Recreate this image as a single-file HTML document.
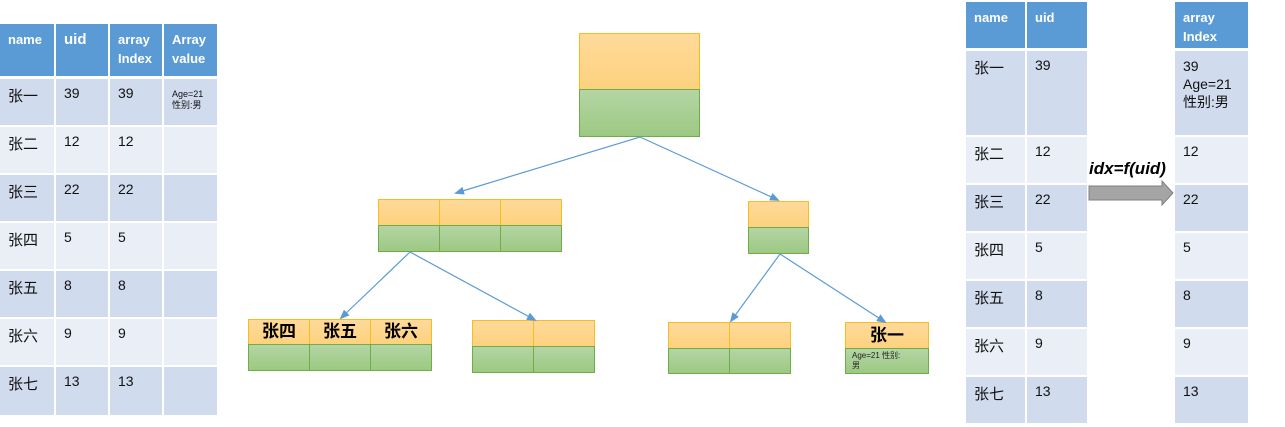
<!DOCTYPE html>
<html><head><meta charset="utf-8">
<style>
body{margin:0;width:1285px;height:427px;background:#fff;position:relative;overflow:hidden;font-family:"Liberation Sans","Noto Sans CJK SC",sans-serif;}
.c{position:absolute;box-sizing:border-box;padding:6px 8px;font-size:14px;color:#111;}
.h{background:#5b9bd5;color:#fff;font-weight:bold;font-size:13px;line-height:19px;}
.d{background:#d0dbee;}
.l{background:#e9eef7;}
.nm{font-size:15px;font-weight:normal;}
.o{position:absolute;box-sizing:border-box;background:linear-gradient(#fed99a,#fdd27e);border:1px solid #f5bd20;}
.g{position:absolute;box-sizing:border-box;background:linear-gradient(#b5d5a5,#9cc982);border:1px solid #70ad47;}
.t{font-weight:bold;font-size:17px;text-align:center;color:#000;}
</style></head>
<body>
<div id="root"></div>
<svg width="1285" height="427" style="position:absolute;left:0;top:0">
<defs><marker id="ah" markerWidth="10" markerHeight="8" refX="8" refY="4" orient="auto" markerUnits="userSpaceOnUse"><path d="M0,0 L10,4 L0,8 z" fill="#5b9bd5"/></marker></defs>
<g stroke="#5b9bd5" stroke-width="1.2" fill="none" marker-end="url(#ah)">
<line x1="640" y1="137" x2="456" y2="193"/>
<line x1="640" y1="137" x2="778" y2="200"/>
<line x1="410" y1="252" x2="341" y2="318"/>
<line x1="410" y1="252" x2="535" y2="320"/>
<line x1="780" y1="254" x2="731" y2="321"/>
<line x1="780" y1="254" x2="885" y2="322"/>
</g>
<g>
<polygon points="1089,186 1162,186 1162,181 1173,193 1162,205 1162,200 1089,200" fill="#a5a5a5" stroke="#7f7f7f" stroke-width="1"/>
</g>
</svg>
<div class="c" style="left:1089px;top:159px;padding:0;font-size:17px;font-weight:bold;font-style:italic;color:#000">idx=f(uid)</div>
<script>
const names=["张一","张二","张三","张四","张五","张六","张七"];
const uids=["39","12","22","5","8","9","13"];
const root=document.getElementById('root');
function cell(x,y,w,h,cls,html,name){
  const d=document.createElement('div');
  d.className='c '+cls;
  d.style.left=x+'px';d.style.top=y+'px';d.style.width=w+'px';d.style.height=h+'px';
  d.innerHTML=html;
  
  
  root.appendChild(d);return d;
}
function box(cls,x,y,w,h,html,name){
  const d=document.createElement('div');
  d.className=cls;
  d.style.left=x+'px';d.style.top=y+'px';d.style.width=w+'px';d.style.height=h+'px';
  if(html)d.innerHTML=html;
  
  
  root.appendChild(d);return d;
}
const lx=[0,56,110,164],lw=[54,52,52,53];
const lh=['name','<span style="font-size:15px">uid</span>','array<br>Index','Array<br>value'];
lh.forEach((t,i)=>cell(lx[i],24,lw[i],52,'h',t,'left-header-'+i));
const lys=[79,127,175,223,271,319,367];
names.forEach((n,r)=>{
  const cls=r%2?'l':'d';const h=r==6?48:46;
  cell(lx[0],lys[r],lw[0],h,cls+' nm',n,'left-name-'+r);
  cell(lx[1],lys[r],lw[1],h,cls,uids[r],'left-uid-'+r);
  cell(lx[2],lys[r],lw[2],h,cls,uids[r],'left-index-'+r);
  cell(lx[3],lys[r],lw[3],h,cls,r==0?'<div style="font-size:9px;line-height:11px;margin-top:4px">Age=21<br>性别:男</div>':'','left-value-'+r);
});
cell(966,2,59,46,'h','name','right-header-name');
cell(1027,2,60,46,'h','uid','right-header-uid');
cell(1175,2,73,46,'h','array<br>Index','right-header-index');
const rys=[51,137,185,233,281,329,377],rhs=[84,46,46,46,46,46,46];
names.forEach((n,r)=>{
  const cls=r%2?'l':'d';
  cell(966,rys[r],59,rhs[r],cls+' nm',n,'right-name-'+r);
  cell(1027,rys[r],60,rhs[r],cls,uids[r],'right-uid-'+r);
  cell(1175,rys[r],73,rhs[r],cls,r==0?'39<br>Age=21<br>性别:男':uids[r],'right-index-'+r).style.lineHeight=r==0?'18px':'';
});
box('o',579,33,121,57,'','root-key');
box('g',579,89,121,48,'','root-value');
[378,439,500].forEach((x,i)=>{box('o',x,199,62,27,'','l2-left-key-'+i);box('g',x,225,62,27,'','l2-left-value-'+i);});
box('o',748,201,61,27,'','l2-right-key');box('g',748,227,61,27,'','l2-right-value');
['张四','张五','张六'].forEach((t,i)=>{const x=248+i*61;box('o t',x,319,62,26,'<div style="line-height:24px">'+t+'</div>','leaf1-key-'+i);box('g',x,344,62,27,'','leaf1-value-'+i);});
[472,533].forEach((x,i)=>{box('o',x,320,62,27,'','leaf2-key-'+i);box('g',x,346,62,27,'','leaf2-value-'+i);});
[668,729].forEach((x,i)=>{box('o',x,322,62,27,'','leaf3-key-'+i);box('g',x,348,62,26,'','leaf3-value-'+i);});
box('o t',845,322,84,27,'<div style="line-height:25px">张一</div>','leaf4-key');
box('g',845,348,84,26,'<div style="font-size:8px;line-height:10px;padding:2px 0 0 6px;color:#222">Age=21 性别:<br>男</div>','leaf4-value');
</script>
</body></html>
